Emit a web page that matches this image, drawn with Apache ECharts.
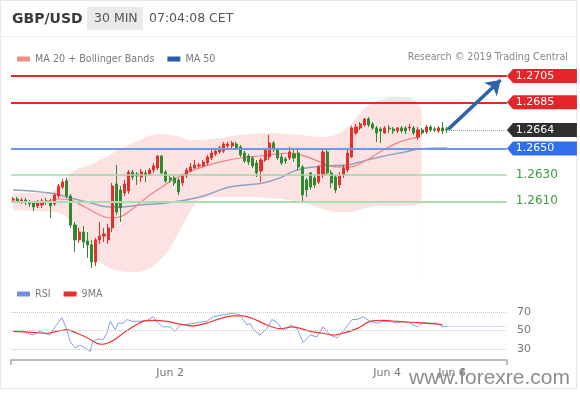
<!DOCTYPE html>
<html><head><meta charset="utf-8">
<script src="https://cdn.jsdelivr.net/npm/echarts@6/dist/echarts.min.js"></script>
<style>html,body{margin:0;padding:0;background:#fff}#c{width:580px;height:393px}</style>
</head><body><div id="c"></div>
<script>
// ---------- DATA ----------
const candleOpen = [1.26110,1.26117,1.26102,1.26110,1.26095,1.26087,1.26064,1.26072,1.26102,1.26095,
1.26080,1.26140,1.26208,1.26254,1.26140,1.25920,1.25807,1.25867,1.25799,1.25769,
1.25640,1.25807,1.25837,1.25807,1.25898,1.26231,1.26186,1.26163,1.26178,1.26322,
1.26307,1.26284,1.26315,1.26307,1.26337,1.26353,1.26443,1.26322,1.26277,1.26277,
1.26262,1.26239,1.26292,1.26330,1.26353,1.26368,1.26368,1.26390,1.26428,1.26459,
1.26474,1.26481,1.26519,1.26519,1.26534,1.26512,1.26466,1.26443,1.26428,1.26390,
1.26330,1.26413,1.26436,1.26542,1.26489,1.26436,1.26421,1.26428,1.26459,1.26466,
1.26360,1.26262,1.26315,1.26277,1.26246,1.26299,1.26474,1.26315,1.26284,1.26224,
1.26299,1.26337,1.26436,1.26618,1.26656,1.26679,1.26724,1.26686,1.26656,1.26648,
1.26618,1.26656,1.26648,1.26633,1.26656,1.26656,1.26656,1.26656,1.26588,1.26641,
1.26625,1.26663,1.26648,1.26633,1.26656,1.26648];
const candleClose = [1.26117,1.26102,1.26110,1.26095,1.26080,1.26057,1.26087,1.26102,1.26095,1.26064,
1.26148,1.26216,1.26246,1.26140,1.25920,1.25807,1.25867,1.25791,1.25769,1.25640,
1.25807,1.25837,1.25852,1.25898,1.26216,1.26019,1.26049,1.26231,1.26322,1.26284,
1.26292,1.26322,1.26299,1.26337,1.26368,1.26443,1.26315,1.26254,1.26262,1.26239,
1.26171,1.26292,1.26337,1.26360,1.26375,1.26375,1.26398,1.26436,1.26466,1.26481,
1.26504,1.26534,1.26534,1.26542,1.26504,1.26451,1.26406,1.26398,1.26368,1.26315,
1.26413,1.26489,1.26542,1.26489,1.26428,1.26390,1.26406,1.26474,1.26428,1.26360,
1.26148,1.26186,1.26208,1.26224,1.26360,1.26474,1.26315,1.26239,1.26186,1.26292,
1.26353,1.26466,1.26656,1.26663,1.26686,1.26724,1.26679,1.26656,1.26618,1.26633,
1.26656,1.26648,1.26633,1.26656,1.26633,1.26633,1.26663,1.26618,1.26641,1.26618,
1.26663,1.26641,1.26641,1.26656,1.26633,1.26640];
const candleLow = [1.26087,1.26087,1.26080,1.26072,1.26057,1.26026,1.26049,1.26049,1.26072,1.25973,
1.26064,1.26125,1.26193,1.26125,1.25898,1.25716,1.25784,1.25746,1.25670,1.25594,
1.25609,1.25776,1.25791,1.25776,1.25867,1.25996,1.25943,1.26140,1.26155,1.26262,
1.26224,1.26246,1.26246,1.26292,1.26315,1.26337,1.26299,1.26239,1.26239,1.26216,
1.26148,1.26216,1.26277,1.26322,1.26345,1.26353,1.26360,1.26375,1.26413,1.26443,
1.26459,1.26466,1.26497,1.26504,1.26489,1.26436,1.26390,1.26375,1.26353,1.26284,
1.26246,1.26398,1.26413,1.26474,1.26413,1.26375,1.26383,1.26413,1.26398,1.26337,
1.26095,1.26133,1.26186,1.26201,1.26231,1.26277,1.26299,1.26201,1.26163,1.26201,
1.26277,1.26322,1.26428,1.26603,1.26641,1.26663,1.26663,1.26641,1.26550,1.26542,
1.26610,1.26618,1.26610,1.26618,1.26618,1.26610,1.26633,1.26603,1.26565,1.26603,
1.26610,1.26625,1.26625,1.26618,1.26610,1.26618];
const candleHigh = [1.26133,1.26133,1.26125,1.26125,1.26110,1.26102,1.26110,1.26117,1.26125,1.26117,
1.26163,1.26231,1.26269,1.26277,1.26155,1.25943,1.25898,1.25913,1.25867,1.25807,
1.25822,1.25943,1.25898,1.25928,1.26239,1.26375,1.26216,1.26262,1.26337,1.26337,
1.26322,1.26345,1.26337,1.26353,1.26390,1.26451,1.26451,1.26337,1.26299,1.26292,
1.26277,1.26307,1.26353,1.26390,1.26413,1.26390,1.26413,1.26451,1.26489,1.26504,
1.26519,1.26550,1.26550,1.26557,1.26550,1.26527,1.26481,1.26459,1.26443,1.26413,
1.26428,1.26504,1.26603,1.26557,1.26504,1.26459,1.26436,1.26512,1.26489,1.26489,
1.26375,1.26277,1.26322,1.26299,1.26375,1.26504,1.26504,1.26337,1.26299,1.26322,
1.26375,1.26489,1.26671,1.26686,1.26701,1.26732,1.26739,1.26701,1.26671,1.26663,
1.26671,1.26679,1.26663,1.26663,1.26671,1.26671,1.26686,1.26671,1.26663,1.26656,
1.26679,1.26679,1.26663,1.26671,1.26701,1.26663];

// Bollinger band (sampled at candle positions)
const bandX =     [0,6.5,10.1,12.6,15,18.6,21,24.7,29.5,33.1,35.6,38,40.4,42.8,45.2,50.1,54.9,62.2,69.4,74.3,77.9,81.5,85.2,88.8,93.6,97.2,98.9];
const bandUpper = [1.26163,1.26163,1.26186,1.26262,1.26337,1.26375,1.26413,1.26474,1.26550,1.26595,1.26610,1.26603,1.26588,1.26565,1.26565,1.26580,1.26603,1.26618,1.26603,1.26588,1.26603,1.26679,1.26807,1.26868,1.26891,1.26868,1.26792];
const bandLower = [1.26034,1.26026,1.26019,1.25989,1.25898,1.25731,1.25640,1.25579,1.25564,1.25594,1.25655,1.25746,1.25882,1.26019,1.26110,1.26133,1.26133,1.26125,1.26095,1.26049,1.26019,1.26019,1.26049,1.26064,1.26064,1.26072,1.26087];
// MA 20
const ma20X = [0,6.5,11.4,13.8,17.4,21,23.5,26.4,29.5,33.1,36.8,40.4,45.2,50.1,54.9,59.7,67,71.1,74.3,78.4,81.5,85.6,88.8,93.6,98.5];
const ma20Y = [1.26102,1.26095,1.26117,1.26110,1.26057,1.25996,1.25973,1.25988,1.26057,1.26148,1.26224,1.26292,1.26353,1.26398,1.26428,1.26443,1.26466,1.26436,1.26398,1.26360,1.26360,1.26413,1.26474,1.26550,1.26588];
// MA 50
const ma50X = [0,9,13,18,23.5,26,30.7,37,45.2,52.5,60.5,64.6,68.7,74.9,80.8,83.9,88.8,94.8,98.5,105];
const ma50Y = [1.26186,1.26163,1.26133,1.26095,1.26057,1.26057,1.26072,1.26087,1.26133,1.26208,1.26239,1.26277,1.26337,1.26368,1.26375,1.26398,1.26436,1.26474,1.26497,1.26504];
// RSI
const rsiX = [0,2.4,4.8,6.5,8.9,9.7,11.8,13,13.8,15,16.2,17.4,18.6,19.3,20.6,21.8,22.7,23.5,24.7,25.4,26.6,27.6,28.8,30.7,32.4,33.9,35.1,36.3,38,39.2,40.4,42.8,45.2,46.9,48.4,50.8,53.2,54.9,56.6,57.3,58,59.7,61.4,62.6,63.9,65.1,66.3,67.1,68.7,69.4,70.2,71.9,73.5,75,76.7,78.4,79.8,82,83.2,84.7,86.4,88,89.5,91.2,92.9,94.3,96,97.9,99.2,100.9,102.6,103.8,105];
const rsiY = [49,49,45,49,45,51,64,51,38,31,34,31,27,38,41,40,47,60,51,58,58,62,60,60,61,65,58,54,54,49,56,57,59,60,65,67,69,67,56,58,52,45,52,62,59,51,52,56,52,45,37,45,43,54,45,42,49,62,62,65,60,58,60,60,58,60,58,54,59,58,58,54,55];
// RSI 9MA
const rsiMaX = [0,4.8,8.2,10.6,13,15.5,17.9,20.3,21.8,24.2,26.6,29,31.4,33.9,37.2,40.4,43.5,46.9,50.1,53.2,55.6,59,61.4,64.6,67.7,71.9,75,77.4,79.8,83.2,86.4,89.5,92.9,96,99.2,102.6,104];
const rsiMaY = [49,48,47,49,51,47,42,36,35,39,47,54,60,61,60,57,55,58,63,66,66,61,56,52,54,49,47,45,47,52,60,61,60,59,58,57,56];
// Levels and ticks
const levelValues = [1.2705, 1.2685, 1.2664, 1.2650, 1.2630, 1.2610];
const rsiLevels = [70, 50, 30];
const dateTickPos = [38, 90.5, 106.2];
const dateTickLabels = ['Jun 2', 'Jun 4', 'Jun 6'];

// ---------- CHART ----------
const FONT = '"DejaVu Sans", sans-serif';
const X_END = 119.5;     // end of the plotted level lines
const TAG_X = 128;       // centre of the price tags
const lastIdx = candleOpen.length - 1;
const pairs = (xs, ys) => xs.map((x, i) => [x, ys[i]]);
const candleData = candleOpen.map((o, i) => [i, o, candleClose[i], candleLow[i], candleHigh[i]]);

function hLine(v, x0, x1, color, width, type, label) {
  return [
    {coord: [x0, v], lineStyle: {color: color, width: width, type: type},
     label: label || {show: false}},
    {coord: [x1, v]}
  ];
}
const greenLabel = v => ({show: true, position: 'end', distance: 9, color: '#3f9c3f',
  fontSize: 12, fontFamily: FONT, formatter: () => v.toFixed(4)});

const priceLines = [
  hLine(levelValues[0], -0.5, X_END, '#e4262b', 2, 'solid'),
  hLine(levelValues[1], -0.5, X_END, '#e4262b', 2, 'solid'),
  hLine(levelValues[2], lastIdx + 0.5, X_END, '#9a9a9a', 1, 'dotted'),
  hLine(levelValues[3], -0.5, X_END, '#7096ea', 2, 'solid'),
  hLine(levelValues[4], -0.5, X_END, '#a6d4a6', 1.5, 'solid', greenLabel(levelValues[4])),
  hLine(levelValues[5], -0.5, X_END, '#b0dab0', 2, 'solid', greenLabel(levelValues[5])),
  [
    {coord: [lastIdx + 0.3, candleClose[lastIdx] + 0.00005], symbol: 'none',
     lineStyle: {color: '#2e63a8', width: 3.5, type: 'solid'}, label: {show: false}},
    {coord: [X_END - 1.5, levelValues[0] - 0.0003], symbol: 'arrow', symbolSize: 14}
  ]
];
const tagColors = ['#e4262b', '#e4262b', '#303030', '#2f6fe9'];

const rsiLast = rsiY[rsiY.length - 1];
const rsiLines = rsiLevels.map(v => [
  {coord: [-0.5, v], lineStyle: {color: '#c8c8c8', width: 1, type: 'dotted'},
   label: {show: true, position: 'end', distance: 10, color: '#777', fontSize: 11, fontFamily: FONT, formatter: () => String(v)}},
  {coord: [X_END, v]}
]);
rsiLines.push([
  {coord: [105, rsiLast], lineStyle: {color: '#a9bde9', width: 1, type: 'dotted'}, label: {show: false}},
  {coord: [X_END, rsiLast]}
]);

const chart = echarts.init(document.getElementById('c'), null, {renderer: 'canvas', width: 580, height: 393});
chart.setOption({
  animation: false,
  backgroundColor: '#ffffff',
  textStyle: {fontFamily: FONT},
  grid: [
    {left: 11, top: 60, width: 564, height: 220, outerBoundsMode: 'none', containLabel: false},
    {left: 11, top: 303, width: 496, height: 55, outerBoundsMode: 'none', containLabel: false}
  ],
  xAxis: [
    {type: 'value', gridIndex: 0, min: -0.5, max: 136, show: false},
    {type: 'value', gridIndex: 1, min: -0.5, max: X_END, offset: 2,
     axisLine: {show: true, lineStyle: {color: '#a8a8a8', width: 1.5}},
     axisTick: {show: true, customValues: [-0.5, X_END], length: 5, inside: false, lineStyle: {color: '#a8a8a8', width: 1.5}},
     axisLabel: {show: true, customValues: dateTickPos, margin: 8, color: '#777', fontSize: 11, fontFamily: FONT,
       formatter: v => { const k = dateTickPos.findIndex(p => Math.abs(p - v) < 0.01); return k >= 0 ? dateTickLabels[k] : ''; }},
     splitLine: {show: false}}
  ],
  yAxis: [
    {type: 'value', gridIndex: 0, min: 1.25503, max: 1.27171, show: false},
    {type: 'value', gridIndex: 1, min: 20, max: 80, show: false}
  ],
  legend: [
    {left: 12, top: 49, itemWidth: 13, itemHeight: 5, itemGap: 13, icon: 'rect', selectedMode: false,
     itemStyle: {borderWidth: 0},
     textStyle: {color: '#7a7a7a', fontSize: 9.6, fontFamily: FONT},
     data: [{name: 'MA 20 + Bollinger Bands', itemStyle: {color: '#f48e8e'}}, {name: 'MA 50', itemStyle: {color: '#2b5ca6'}}]},
    {left: 12, top: 284, itemWidth: 13, itemHeight: 5, itemGap: 13, icon: 'rect', selectedMode: false,
     itemStyle: {borderWidth: 0},
     textStyle: {color: '#7a7a7a', fontSize: 9.6, fontFamily: FONT},
     data: [{name: 'RSI', itemStyle: {color: '#6f90dc'}}, {name: '9MA', itemStyle: {color: '#ee2a2a'}}]}
  ],
  graphic: [
    {type: 'rect', shape: {x: 0.5, y: 0.5, width: 576, height: 388}, style: {fill: 'none', stroke: '#e6e8e8', lineWidth: 1}, silent: true, z: -10},
    {type: 'line', shape: {x1: 0, y1: 36.5, x2: 577, y2: 36.5}, style: {stroke: '#eceeee', lineWidth: 1}, silent: true},
    {type: 'rect', shape: {x: 87, y: 7, width: 56, height: 23}, style: {fill: '#e8ebea'}, silent: true},
    {type: 'text', x: 12, y: 19, style: {text: 'GBP/USD', font: 'bold 14px "DejaVu Sans"', fill: '#3a3a3a', verticalAlign: 'middle'}},
    {type: 'text', x: 94, y: 19, style: {text: '30 MIN', font: '12.5px "DejaVu Sans"', fill: '#555', verticalAlign: 'middle'}},
    {type: 'text', x: 149, y: 19, style: {text: '07:04:08 CET', font: '12.5px "DejaVu Sans"', fill: '#555', verticalAlign: 'middle'}},
    {type: 'text', x: 568, y: 57, style: {text: 'Research \u00a9 2019 Trading Central', font: '9.6px "DejaVu Sans"', fill: '#888', align: 'right', verticalAlign: 'middle'}},
    {type: 'text', x: 570, y: 378, z: 100, style: {text: 'www.forexre.com', font: '21px "Liberation Sans"', fill: '#8d8d8d', align: 'right', verticalAlign: 'middle'}}
  ],
  series: [
    {name: 'bbUpper', type: 'line', xAxisIndex: 0, yAxisIndex: 0, data: pairs(bandX, bandUpper),
     smooth: 0.4, symbol: 'none', lineStyle: {width: 0, opacity: 0},
     areaStyle: {color: '#fce2e2', opacity: 1, origin: 'start'}, silent: true, z: 1},
    {name: 'bbLower', type: 'line', xAxisIndex: 0, yAxisIndex: 0, data: pairs(bandX, bandLower),
     smooth: 0.4, symbol: 'none', lineStyle: {width: 0, opacity: 0},
     areaStyle: {color: '#ffffff', opacity: 1, origin: 'start'}, silent: true, z: 1},
    {name: 'MA 50', type: 'line', xAxisIndex: 0, yAxisIndex: 0, data: pairs(ma50X, ma50Y), smooth: 0.4, symbol: 'none',
     lineStyle: {color: '#8ea3bf', width: 1.5}, silent: true, z: 2},
    {name: 'MA 20 + Bollinger Bands', type: 'line', xAxisIndex: 0, yAxisIndex: 0, data: pairs(ma20X, ma20Y), smooth: 0.4, symbol: 'none',
     lineStyle: {color: '#f38080', width: 1.2}, silent: true, z: 2},
    {name: 'GBP/USD', type: 'candlestick', xAxisIndex: 0, yAxisIndex: 0, data: candleData, barWidth: 2.6, z: 3,
     itemStyle: {color: '#e3302c', color0: '#2f8a2f', borderColor: '#e3302c', borderColor0: '#2f8a2f', borderWidth: 1},
     markLine: {silent: true, animation: false, symbol: 'none', data: priceLines},
     markPoint: {silent: true, animation: false,
       symbol: 'path://M0,7 L6,0 L70,0 L70,14 L6,14 Z', symbolSize: [70, 14],
       label: {show: true, position: 'inside', offset: [-7, 0], color: '#fff', fontSize: 11, fontFamily: FONT,
         formatter: p => Number(p.value).toFixed(4)},
       data: [0, 1, 2, 3].map(k => ({coord: [TAG_X, levelValues[k]], value: levelValues[k], itemStyle: {color: tagColors[k]}}))}},
    {name: 'RSI', type: 'line', xAxisIndex: 1, yAxisIndex: 1, data: pairs(rsiX, rsiY), symbol: 'none',
     lineStyle: {color: '#86a2e4', width: 1}, silent: true, z: 3,
     markLine: {silent: true, animation: false, symbol: 'none', data: rsiLines}},
    {name: '9MA', type: 'line', xAxisIndex: 1, yAxisIndex: 1, data: pairs(rsiMaX, rsiMaY), smooth: 0.3, symbol: 'none',
     lineStyle: {color: '#f03535', width: 1.2}, silent: true, z: 4}
  ]
});
</script>
</body></html>
